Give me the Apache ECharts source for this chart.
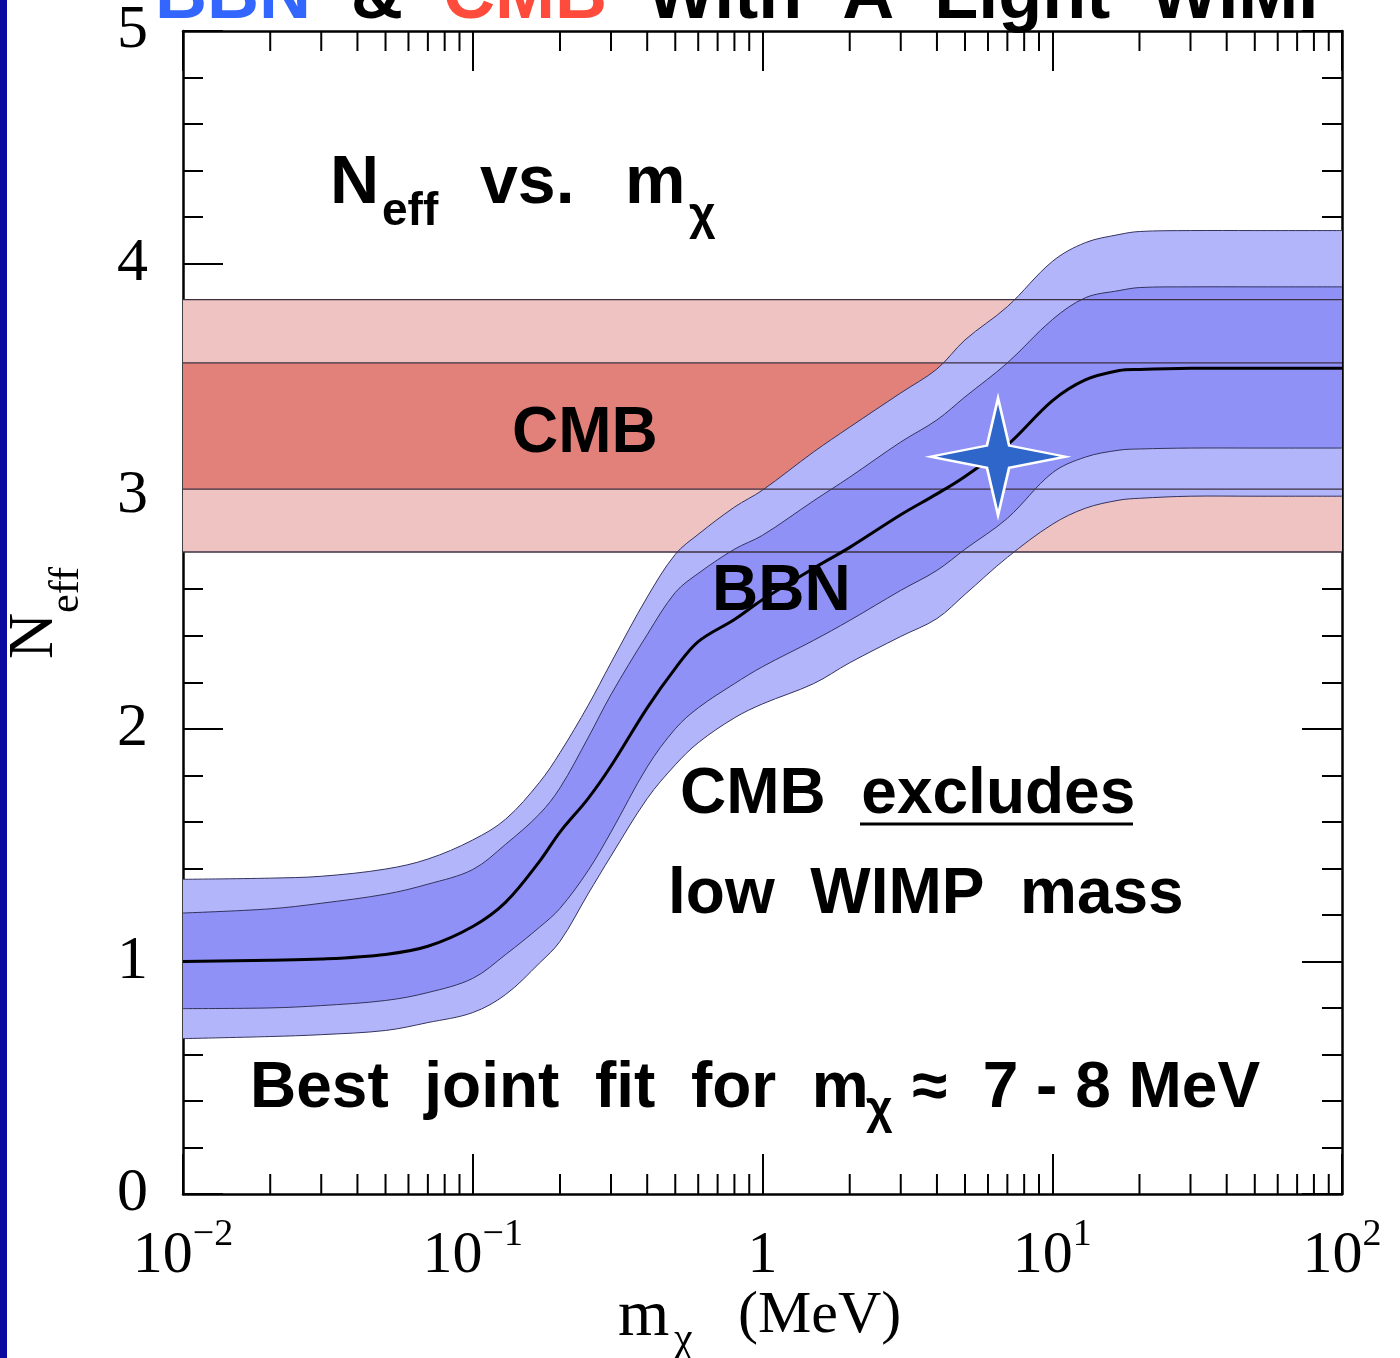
<!DOCTYPE html>
<html>
<head>
<meta charset="utf-8">
<script src="https://cdn.jsdelivr.net/npm/echarts@6/dist/echarts.min.js"></script>
<style>
html, body { margin: 0; padding: 0; background: #fff; }
#chart { width: 1400px; height: 1358px; }
</style>
</head>
<body>
<div id="chart"></div>
<script>
var mass = [0.01, 0.02, 0.03, 0.05, 0.07, 0.1, 0.13, 0.17, 0.2, 0.25, 0.3, 0.4, 0.5, 0.6, 0.8,
            1, 1.5, 2, 3, 4, 5, 7, 10, 13, 17, 20, 30, 50, 100];
// BBN best N_eff and the 1 sigma / 2 sigma edges
var neffBest = [1.00, 1.005, 1.01, 1.03, 1.065, 1.15, 1.255, 1.43, 1.556, 1.70, 1.84, 2.09, 2.26, 2.375, 2.47,
                2.555, 2.69, 2.78, 2.92, 3.01, 3.085, 3.22, 3.41, 3.50, 3.54, 3.545, 3.55, 3.55, 3.55];
var neff1sUp = [1.208, 1.226, 1.25, 1.289, 1.332, 1.395, 1.504, 1.634, 1.746, 1.961, 2.147, 2.405, 2.586, 2.668, 2.772,
                2.832, 2.98, 3.082, 3.233, 3.328, 3.427, 3.573, 3.759, 3.853, 3.884, 3.897, 3.90, 3.90, 3.90];
var neff1sLo = [0.797, 0.80, 0.81, 0.832, 0.866, 0.927, 1.03, 1.147, 1.228, 1.39, 1.556, 1.836, 2.0, 2.09, 2.194,
                2.267, 2.38, 2.466, 2.595, 2.681, 2.772, 2.905, 3.10, 3.168, 3.198, 3.203, 3.207, 3.207, 3.207];
var neff2sUp = [1.353, 1.358, 1.366, 1.397, 1.44, 1.522, 1.612, 1.77, 1.897, 2.10, 2.284, 2.566, 2.75, 2.836, 2.953,
                3.026, 3.19, 3.297, 3.444, 3.547, 3.672, 3.815, 4.009, 4.09, 4.125, 4.138, 4.142, 4.142, 4.142];
var neff2sLo = [0.668, 0.677, 0.685, 0.703, 0.737, 0.78, 0.858, 0.993, 1.086, 1.29, 1.453, 1.70, 1.845, 1.94, 2.047,
                2.107, 2.194, 2.284, 2.397, 2.474, 2.578, 2.737, 2.879, 2.948, 2.983, 2.991, 3.0, 3.0, 3.0];
// CMB allowed ranges
var cmbOuter = [2.76, 3.845];
var cmbInner = [3.03, 3.573];
// best joint fit
var bestFit = [6.5, 3.17];

var xRange = [0.01, 100];
var xTickLabels = ['{n|10}{s|\u22122}', '{n|10}{s|\u22121}', '{n|1}', '{n|10}{s|1}', '{n|10}{s|2}'];
var xMinorTicks = [0.02, 0.03, 0.04, 0.05, 0.06, 0.07, 0.08, 0.09,
                   0.2, 0.3, 0.4, 0.5, 0.6, 0.7, 0.8, 0.9,
                   2, 3, 4, 5, 6, 7, 8, 9,
                   20, 30, 40, 50, 60, 70, 80, 90];

var SERIF = '"Liberation Serif", "DejaVu Serif", serif';
var SANS = '"Liberation Sans", Arial, sans-serif';
var EDGE = '#33335e';
var SMOOTH = 0.35;

var chart = echarts.init(document.getElementById('chart'));

function toPx(api, ys) {
    return mass.map(function (m, i) { return api.coord([m, ys[i]]); });
}

// filled band with its two edge lines, smoothed by zrender
function band(lo, hi, color, z) {
    return {
        type: 'custom', z: z, silent: true,
        data: [[1, 1]],
        renderItem: function (params, api) {
            var up = toPx(api, hi);
            var dn = toPx(api, lo);
            var n = up.length;
            // doubled corner points keep the ends square
            var pts = [up[0]].concat(up, [up[n - 1]], [dn[n - 1]], dn.slice().reverse(), [dn[0]]);
            return {
                type: 'group', children: [
                    { type: 'polygon', shape: { points: pts, smooth: SMOOTH }, style: { fill: color } },
                    { type: 'polyline', shape: { points: up, smooth: SMOOTH }, style: { stroke: EDGE, lineWidth: 1, fill: null } },
                    { type: 'polyline', shape: { points: dn, smooth: SMOOTH }, style: { stroke: EDGE, lineWidth: 1, fill: null } }
                ]
            };
        }
    };
}

// horizontal CMB band over the whole mass range
function flatBand(range, color, z) {
    return {
        type: 'custom', z: z, silent: true,
        data: [[1, 1]],
        renderItem: function (params, api) {
            var a = api.coord([xRange[0], range[1]]);
            var b = api.coord([xRange[1], range[0]]);
            return { type: 'rect', shape: { x: a[0], y: a[1], width: b[0] - a[0], height: b[1] - a[1] }, style: { fill: color } };
        }
    };
}

function txt(x, y, s, size, extra) {
    var st = { x: x, y: y, text: s, fill: '#000', fontSize: size, fontWeight: 'bold',
               fontFamily: SANS, align: 'left', verticalAlign: 'middle' };
    for (var k in extra) st[k] = extra[k];
    return { type: 'text', z: 100, style: st };
}

function vtxt(x, y, s, size) {
    return { type: 'text', z: 100, x: x, y: y, rotation: Math.PI / 2,
             style: { x: 0, y: 0, text: s, fill: '#000', fontSize: size, fontFamily: SERIF,
                      align: 'center', verticalAlign: 'middle' } };
}

var axisLineStyle = { color: '#000', width: 2.5 };
var tickStyle = { color: '#000', width: 2 };

var option = {
    animation: false,
    grid: { left: 183, right: 58, top: 31, bottom: 164 },
    xAxis: [{
        type: 'log', logBase: 10, min: xRange[0], max: xRange[1], position: 'bottom',
        axisLine: { onZero: false, lineStyle: axisLineStyle },
        axisTick: { show: true, inside: true, length: 40, lineStyle: tickStyle },
        splitLine: { show: false },
        axisLabel: {
            margin: 22, color: '#000',
            formatter: function (v, i) { return xTickLabels[i]; },
            rich: {
                n: { fontSize: 60, fontFamily: SERIF, color: '#000', lineHeight: 70, verticalAlign: 'bottom' },
                s: { fontSize: 38, fontFamily: SERIF, color: '#000', lineHeight: 52, verticalAlign: 'top' }
            }
        }
    }, {
        type: 'log', logBase: 10, min: xRange[0], max: xRange[1], position: 'top',
        axisLine: { onZero: false, lineStyle: axisLineStyle },
        axisTick: { show: true, inside: true, length: 40, lineStyle: tickStyle },
        splitLine: { show: false },
        axisLabel: { show: false }
    }],
    yAxis: [{
        type: 'value', min: 0, max: 5, interval: 1, position: 'left',
        axisLine: { show: true, onZero: false, lineStyle: axisLineStyle },
        axisTick: { show: true, inside: true, length: 40, lineStyle: tickStyle },
        minorTick: { show: true, splitNumber: 5, length: 20, lineStyle: tickStyle },
        splitLine: { show: false },
        axisLabel: { margin: 35, color: '#000', fontSize: 62, fontFamily: SERIF }
    }, {
        type: 'value', min: 0, max: 5, interval: 1, position: 'right',
        axisLine: { show: true, onZero: false, lineStyle: axisLineStyle },
        axisTick: { show: true, inside: true, length: 40, lineStyle: tickStyle },
        minorTick: { show: true, splitNumber: 5, length: 20, lineStyle: tickStyle },
        splitLine: { show: false },
        axisLabel: { show: false }
    }],
    series: [
        flatBand(cmbOuter, '#efc3c1', 1),
        flatBand(cmbInner, '#e2807a', 2),
        band(neff2sLo, neff2sUp, '#b3b5fa', 3),
        band(neff1sLo, neff1sUp, '#8f91f7', 4),
        {
            // CMB range boundaries, drawn over the BBN band
            type: 'custom', z: 6, silent: true,
            data: cmbOuter.concat(cmbInner).map(function (v) { return [1, v]; }),
            renderItem: function (params, api) {
                var v = api.value(1);
                var a = api.coord([xRange[0], v]);
                var b = api.coord([xRange[1], v]);
                return { type: 'line', shape: { x1: a[0], y1: a[1], x2: b[0], y2: b[1] }, style: { stroke: '#3c3040', lineWidth: 1.3 } };
            }
        },
        {
            type: 'custom', z: 7, silent: true,
            data: [[1, 1]],
            renderItem: function (params, api) {
                return { type: 'polyline', shape: { points: toPx(api, neffBest), smooth: SMOOTH },
                         style: { stroke: '#000', lineWidth: 3, fill: null } };
            }
        },
        {
            type: 'scatter', z: 8, silent: true,
            data: [bestFit],
            symbol: 'path://M0,-58 L11,-11 L67,0 L11,11 L0,58 L-11,11 L-67,0 L-11,-11 Z',
            symbolSize: [135, 117],
            itemStyle: { color: '#2f66c9', borderColor: '#fff', borderWidth: 2.5, opacity: 1 }
        },
        {
            // minor decade ticks on bottom and top edges
            type: 'custom', z: 10, silent: true,
            data: xMinorTicks.map(function (m) { return [m, 0]; }),
            renderItem: function (params, api) {
                var m = api.value(0);
                var b = api.coord([m, 0]);
                var t = api.coord([m, 5]);
                return {
                    type: 'group', children: [
                        { type: 'line', shape: { x1: b[0], y1: b[1], x2: b[0], y2: b[1] - 20 }, style: { stroke: '#000', lineWidth: 2 } },
                        { type: 'line', shape: { x1: t[0], y1: t[1], x2: t[0], y2: t[1] + 20 }, style: { stroke: '#000', lineWidth: 2 } }
                    ]
                };
            }
        }
    ],
    graphic: [
        { type: 'rect', z: 100, shape: { x: 0, y: 0, width: 7, height: 1358 }, style: { fill: '#0a0aa0' } },
        {
            type: 'text', z: 100,
            style: {
                x: 155, y: -2, align: 'left', verticalAlign: 'middle',
                text: '{b|BBN}  {k|&}  {r|CMB}  {k|With  A  Light  WIMP}',
                fontSize: 72, fontWeight: 'bold', fontFamily: SANS,
                rich: {
                    b: { fontSize: 72, fontWeight: 'bold', fontFamily: SANS, fill: '#3366ff' },
                    r: { fontSize: 72, fontWeight: 'bold', fontFamily: SANS, fill: '#ff4b3c' },
                    k: { fontSize: 72, fontWeight: 'bold', fontFamily: SANS, fill: '#000' }
                }
            }
        },
        // N_eff vs. m_chi
        txt(330, 184, 'N', 68),
        txt(382, 212, 'eff', 46),
        txt(480, 184, 'vs.', 68),
        txt(625, 184, 'm', 68),
        txt(689, 216, '\u03c7', 46),
        txt(512, 434, 'CMB', 64),
        txt(712, 592, 'BBN', 64),
        txt(680, 795, 'CMB  excludes', 64),
        { type: 'line', z: 100, shape: { x1: 860, y1: 824, x2: 1133, y2: 824 }, style: { stroke: '#000', lineWidth: 3 } },
        txt(668, 895, 'low  WIMP  mass', 64),
        txt(250, 1089, 'Best  joint  fit  for  m', 64),
        txt(866, 1110, '\u03c7', 46),
        txt(912, 1089, '\u2248  7 - 8 MeV', 64),
        // axis names
        vtxt(35, 636, 'N', 64),
        vtxt(67, 590, 'eff', 42),
        txt(618, 1318, 'm', 66, { fontWeight: 'normal', fontFamily: SERIF }),
        txt(674, 1340, '\u03c7', 42, { fontWeight: 'normal', fontFamily: SERIF }),
        txt(738, 1316, '(MeV)', 60, { fontWeight: 'normal', fontFamily: SERIF })
    ]
};

chart.setOption(option);
</script>
</body>
</html>
